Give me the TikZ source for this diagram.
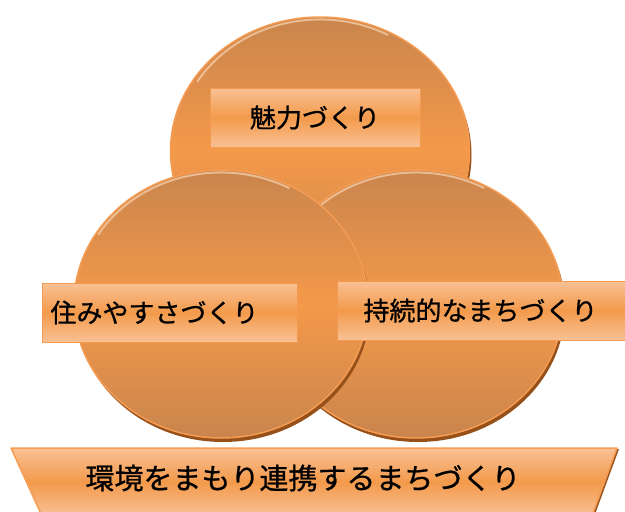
\documentclass[tikz,border=0pt]{standalone}
\usepackage{fontspec}
\setmainfont{Noto Sans CJK JP}[FakeBold=0.8]
\usetikzlibrary{shapes.geometric,shadows}

\definecolor{coinedge}{HTML}{C9854D}
\definecolor{coinmid}{HTML}{F4994A}
\definecolor{rimline}{HTML}{F59B52}
\definecolor{rimshade}{HTML}{96501A}
\definecolor{rimgloss}{HTML}{FAD2AE}
\definecolor{tagline}{HTML}{F49A50}
\definecolor{bandlight}{HTML}{F9C195}
\definecolor{bandmid}{HTML}{F39A4B}

\begin{document}
\begin{tikzpicture}[x=1pt, y=-1pt, line join=round,
	coin/.style={ellipse, draw=rimline, line width=1.5pt, inner sep=0pt, minimum height=268pt,
		top color=coinedge, bottom color=coinedge, middle color=coinmid,
		drop shadow={shadow xshift=2pt, shadow yshift=-4pt, fill=rimshade, opacity=1}},
	gloss/.style={rimgloss, opacity=0.7, line width=2pt, line cap=round},
	tag/.style={rectangle, draw=tagline, line width=1pt, inner sep=0pt, minimum height=59pt,
		top color=bandlight, bottom color=bandlight, middle color=bandmid,
		font=\fontsize{26pt}{26pt}\selectfont},
	band/.style={draw=rimline, line width=1.5pt, top color=bandlight, bottom color=bandlight, middle color=bandmid,
		drop shadow={shadow xshift=2pt, shadow yshift=-1pt, fill=rimshade, opacity=1}}]
	\clip (0,0) rectangle (625,512);
	% three coins, back to front
	\foreach \name/\x/\y/\w in {miryoku/320/151/299, jizoku/416/304/294, sumiyasusa/221/304/294}{
		\node[coin, minimum width=\w pt] (\name) at (\x,\y) {};
		\draw[gloss] ([shift={(148:144.5pt and 131.5pt)}]\name.center) arc[start angle=148, end angle=62, x radius=144.5pt, y radius=131.5pt];
	}
	\node[tag, minimum width=210pt] (miryokutag) at (315,117.5) {魅力づくり};
	\node[tag, anchor=west, minimum width=255pt, text width=239pt, align=left] (sumitag) at (42,312.5) {住みやすさづくり};
	\node[tag, anchor=west, minimum width=300pt, text width=248pt, align=left] (jizokutag) at (337,310.5) {持続的なまちづくり};
	% base band
	\coordinate (bandNW) at (11,448);
	\coordinate (bandNE) at (617,448);
	\coordinate (bandSE) at (592,516);
	\coordinate (bandSW) at (42,516);
	\shade[band] (bandNW) -- (bandNE) -- (bandSE) -- (bandSW) -- cycle;
	\node[font=\fontsize{29pt}{29pt}\selectfont] (renkei) at (303,478) {環境をまもり連携するまちづくり};
\end{tikzpicture}
\end{document}
